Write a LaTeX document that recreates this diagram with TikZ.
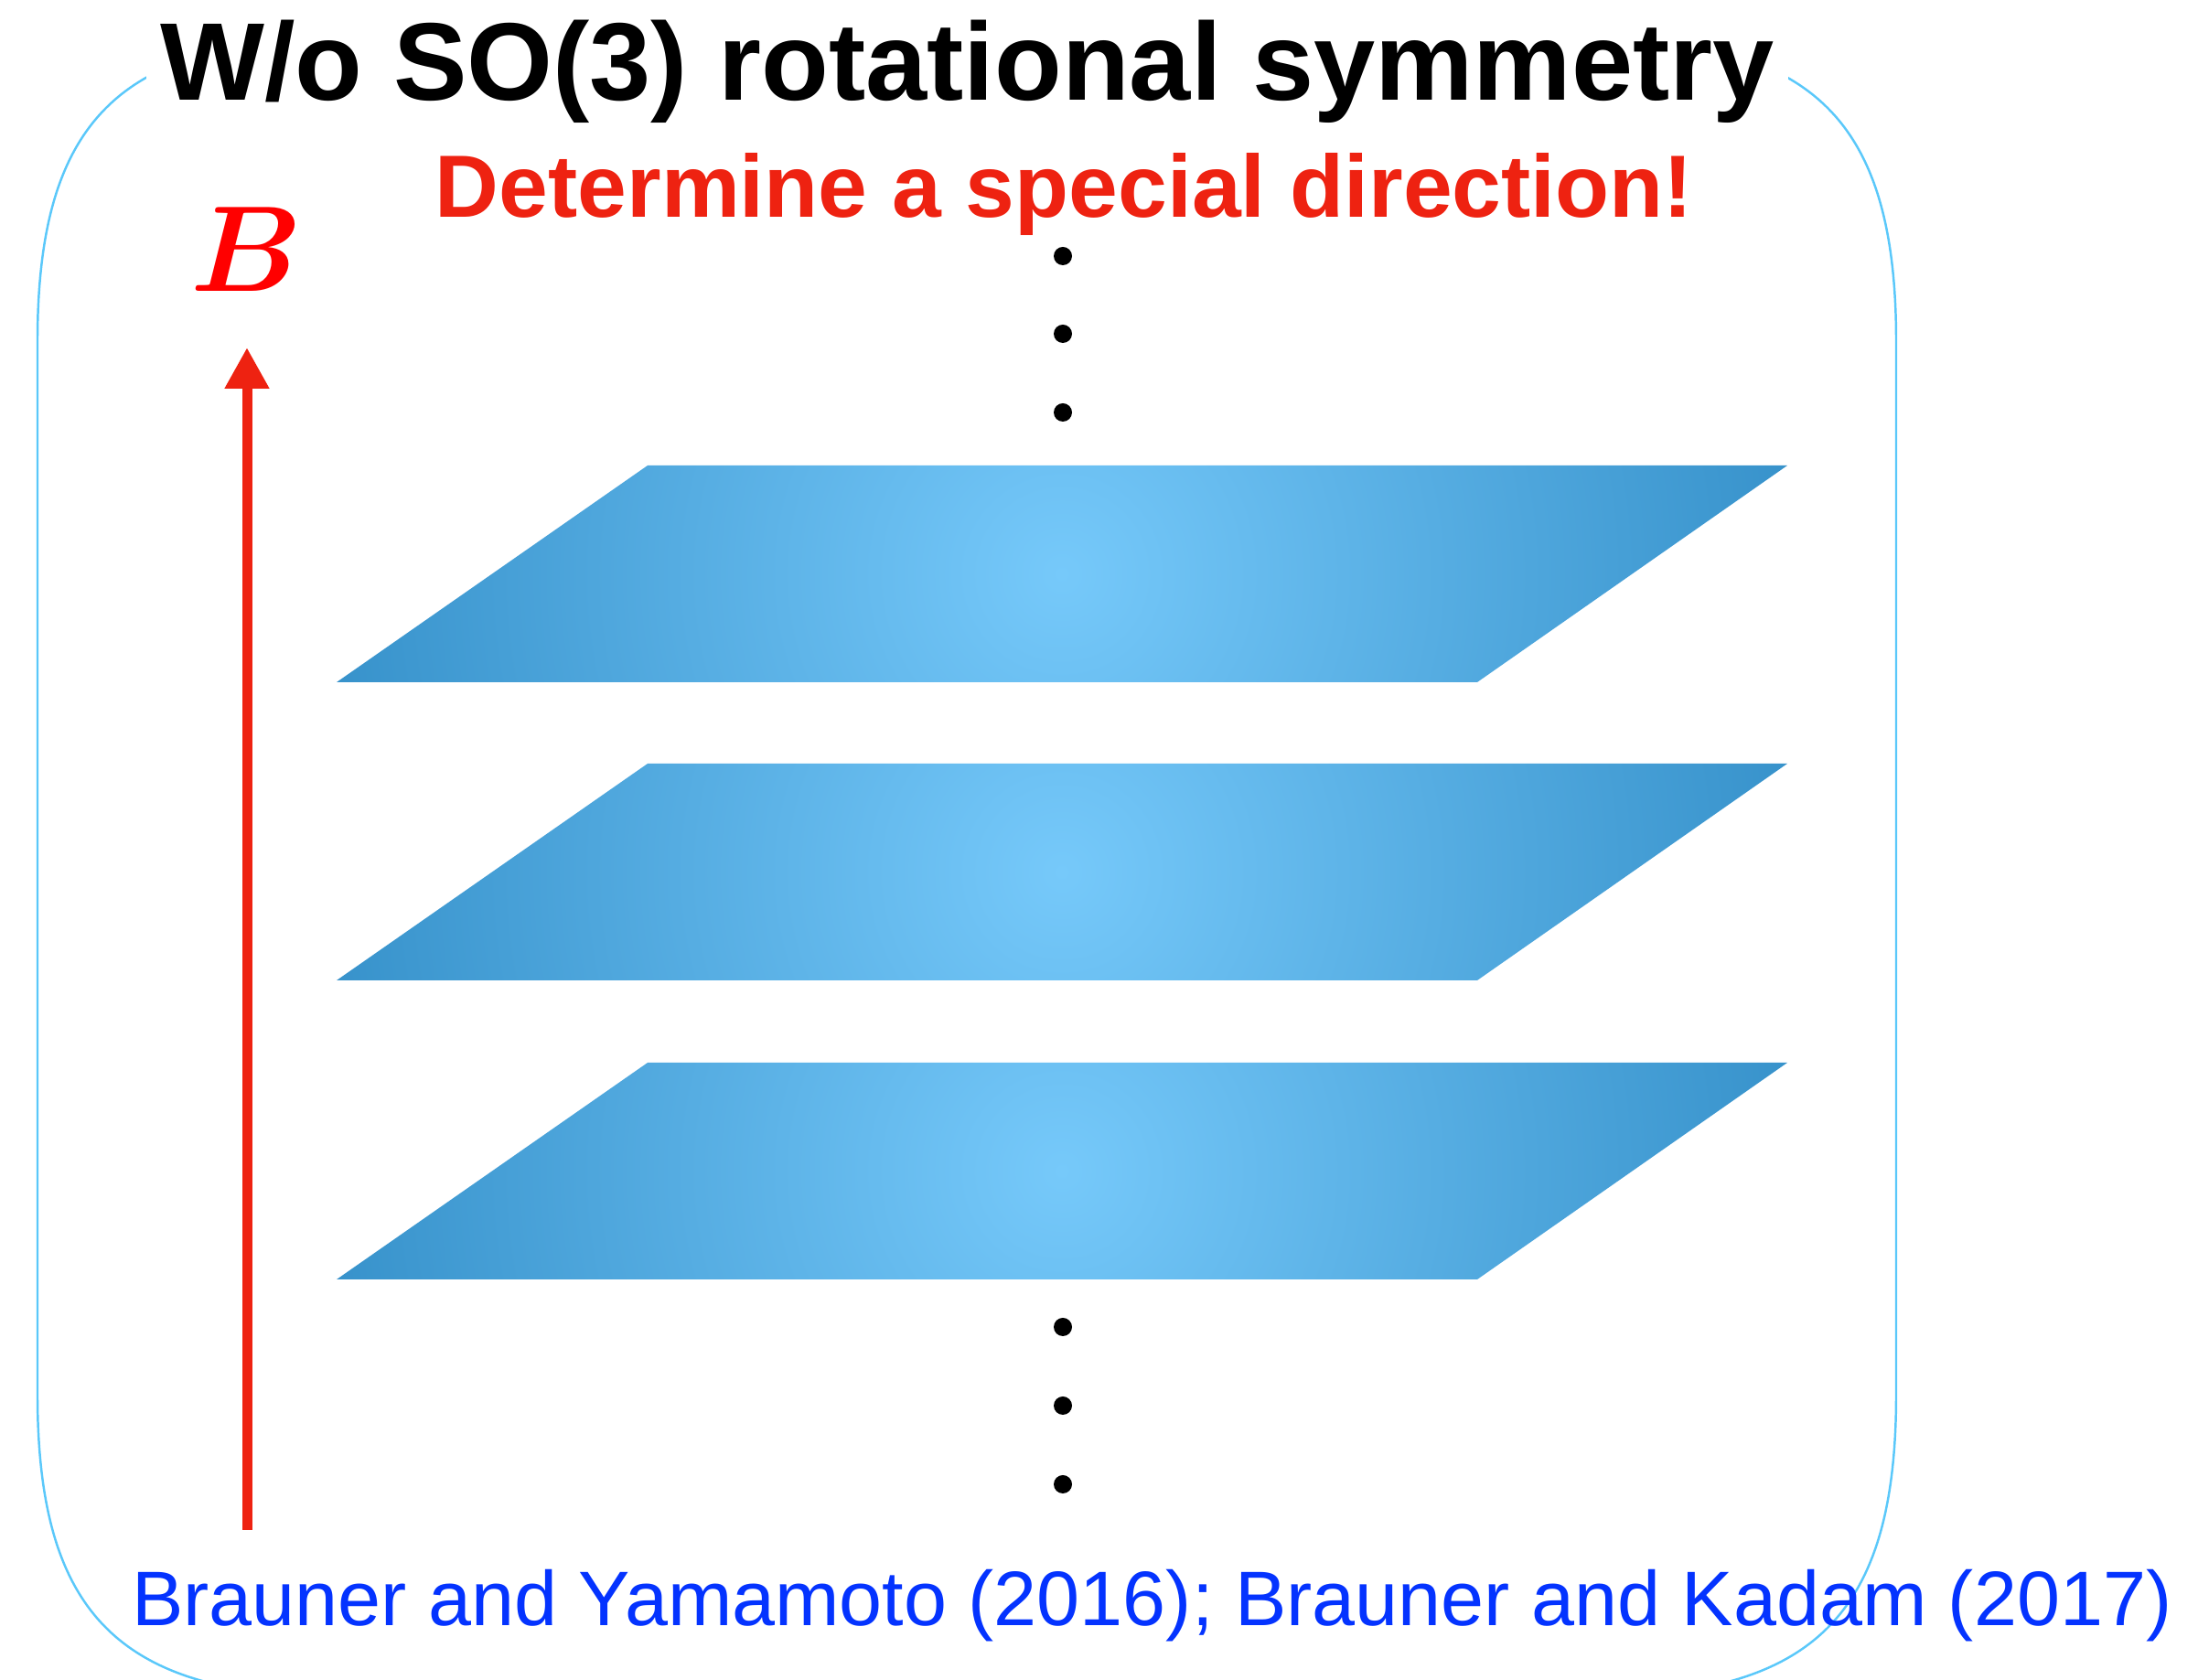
\RequirePackage{fix-cm}
\documentclass[tikz,border=0pt]{standalone}
\usepackage{amsmath}
\usepackage{fontspec}
\setmainfont{Liberation Sans}
\usetikzlibrary{arrows.meta}
\definecolor{boxblue}{RGB}{90,200,250}
\definecolor{signred}{RGB}{238,34,17}
\definecolor{refblue}{RGB}{4,51,255}
\definecolor{planelight}{RGB}{118,201,250}
\definecolor{planedark}{RGB}{54,145,202}
\begin{document}
\begin{tikzpicture}[every node/.style={inner sep=0pt,anchor=base}]
\clip (0,0) rectangle (24.03,-18.37);
\draw[boxblue,line width=0.7pt] (17.43,-0.43) .. controls (19.83,-0.43) and (20.73,-1.33) .. (20.73,-3.73)
  -- (20.73,-15.25) .. controls (20.73,-17.65) and (19.83,-18.55) .. (17.43,-18.55)
  -- (3.71,-18.55) .. controls (1.31,-18.55) and (0.41,-17.65) .. (0.41,-15.25)
  -- (0.41,-3.73) .. controls (0.41,-1.33) and (1.31,-0.43) .. (3.71,-0.43) -- cycle;
\node[fill=white,inner sep=0.15cm,font=\fontsize{34.35}{40}\selectfont\bfseries] (title) at (10.575,-1.10) {W/o SO(3) rotational symmetry};
\node[signred,font=\fontsize{27.5}{32}\selectfont\bfseries] (special) at (11.635,-2.38) {Determine a special direction!};
\foreach \t in {5.09,8.35,11.62} {
  \begin{scope}
  \clip (3.68,-\t-2.37) -- (16.15,-\t-2.37) -- (19.54,-\t) -- (7.08,-\t) -- cycle;
  \shade[inner color=planelight,outer color=planedark] (11.61,-\t-1.185) ellipse (8.2 and 8.2);
  \end{scope}
}
\foreach \y in {2.80,3.65,4.51,14.51,15.37,16.23} \fill (11.62,-\y) circle (0.1);
\coordinate (foot) at (2.70,-16.73);
\coordinate (tip) at (2.70,-3.80);
\draw[signred,line width=0.11cm,-{Triangle[length=0.45cm,width=0.46cm]}] (foot) -- (tip);
\node[red,font=\fontsize{38}{44}\selectfont] (field) at (2.70,-3.19) {$\boldsymbol{B}$};
\node[refblue,font=\fontsize{24.05}{28}\selectfont] (refs) at (12.595,-17.78) {Brauner and Yamamoto (2016); Brauner and Kadam (2017)};
\end{tikzpicture}
\end{document}
